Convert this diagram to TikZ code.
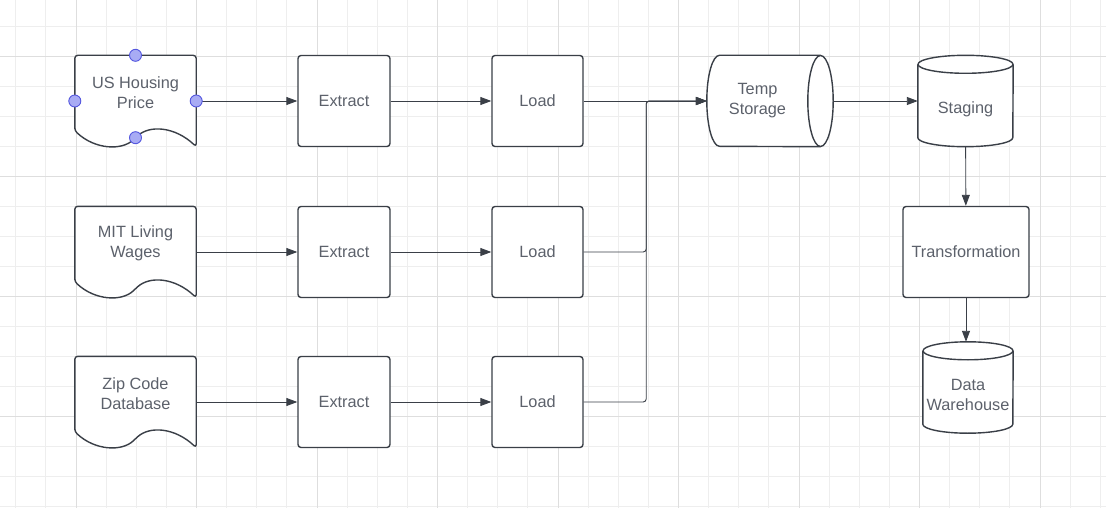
\documentclass[tikz,border=0pt]{standalone}
\usepackage{fontspec}
\setmainfont{Liberation Sans}
\usetikzlibrary{calc,arrows.meta}
\definecolor{ink}{HTML}{3A3F47}
\definecolor{txt}{HTML}{5C616B}
\definecolor{gmin}{HTML}{EEEEEE}
\definecolor{gmaj}{HTML}{DEDEDE}
\definecolor{hfill}{HTML}{A8ABF4}
\definecolor{hline}{HTML}{5457DF}
\newcommand\labfont{\fontsize{16.3pt}{20pt}\selectfont}
\pgfdeclarelayer{grid}
\pgfdeclarelayer{shapes}
\pgfsetlayers{grid,shapes,main}
\tikzset{
  shp/.style={draw=ink, fill=white, line width=1.4pt, line join=round},
  lab/.style={text=txt, font=\labfont, align=center},
  box/.style={shp, lab, rounded corners=3pt, minimum width=#1, minimum height=91pt, inner sep=0pt},
  outline/.style={minimum width=#1, minimum height=91pt, inner sep=0pt},
  conn/.style={draw=ink, line width=0.9pt, -{Triangle[length=11pt,width=8pt]}},
  handle/.style={circle, fill=hfill, draw=hline, line width=0.9pt, minimum size=12pt, inner sep=0pt},
  gridmin/.style={draw=gmin, line width=0.9pt},
  gridmaj/.style={draw=gmaj, line width=0.9pt},
}
% document shape with wavy bottom
\newcommand\docshape[1]{%
  \path[shp, rounded corners=3pt] ($(#1.south west)+(0,-16)$) -- (#1.north west) -- (#1.north east) -- (#1.south east)
    .. controls ($(#1.south)+(39.5,-20)$) and ($(#1.south)+(14.5,-22)$) .. ($(#1.south)+(0,-9)$)
    .. controls ($(#1.south)+(-13.5,4)$) and ($(#1.south)+(-40.5,3)$) .. ($(#1.south west)+(0,-16)$) -- cycle;
}
% upright cylinder
\newcommand\cylv[2]{%
  \path[shp] ($(#1.north west)+(0,9)$) -- ($(#1.south west)+(0,-9)$)
    arc[start angle=180, end angle=360, x radius=#2pt, y radius=9pt]
    -- ($(#1.north east)+(0,9)$);
  \path[shp] ($(#1.north)+(0,9)$) ellipse[x radius=#2pt, y radius=9pt];
}
% lying cylinder
\newcommand\cylh[3]{%
  \path[shp] ($(#1.north east)+(-#2,0)$) -- ($(#1.north west)+(#2,0)$)
    arc[start angle=90, end angle=270, x radius=#2pt, y radius=#3pt]
    -- ($(#1.south east)+(-#2,0)$);
  \path[shp] ($(#1.east)+(-#2,0)$) ellipse[x radius=#2pt, y radius=#3pt];
}

\begin{document}
\begin{tikzpicture}[x=1pt, y=-1pt]
  \useasboundingbox (0,0) rectangle (1106,508);
  \begin{pgfonlayer}{grid}
    \fill[white] (0,0) rectangle (1106,508);
    \foreach \i in {-2,...,34} \draw[gridmin] ({76+30.125*\i},0) -- ++(0,508);
    \foreach \j in {-1,...,15} \draw[gridmin] (0,{56+30*\j}) -- ++(1106,0);
    \foreach \i in {0,...,8} \draw[gridmaj] ({76+120.5*\i},0) -- ++(0,508);
    \foreach \j in {0,...,3} \draw[gridmaj] (0,{56+120*\j}) -- ++(1106,0);
  \end{pgfonlayer}

  \node[outline=121pt, label={[lab,yshift=8.5pt]center:US Housing\\Price}] (doc1) at (135.5,101) {};
  \node[outline=121pt, label={[lab,yshift=8.5pt]center:MIT Living\\Wages}] (doc2) at (135.5,252) {};
  \node[outline=121pt, label={[lab,yshift=8.5pt]center:Zip Code\\Database}] (doc3) at (135.5,402) {};

  \node[box=92pt] (ext1) at (344,101) {Extract};
  \node[box=92pt] (ext2) at (344,252) {Extract};
  \node[box=92pt] (ext3) at (344,402) {Extract};

  \node[box=91pt] (ld1) at (537.5,101) {Load};
  \node[box=91pt] (ld2) at (537.5,252) {Load};
  \node[box=91pt] (ld3) at (537.5,402) {Load};

  \node[outline=126pt, label={[lab,xshift=-12.5pt,yshift=0.5pt]center:Temp\\Storage}] (tmp) at (770,101) {};
  \node[outline=95pt, label={[lab,yshift=-8.5pt]center:Staging}] (stg) at (965.5,101) {};
  \node[box=126pt] (trf) at (966,252) {Transformation};
  \node[outline=90pt, label={[lab,yshift=-7.5pt]center:Data\\Warehouse}] (dw) at (968,387.5) {};

  \begin{pgfonlayer}{shapes}
    \docshape{doc1}
    \docshape{doc2}
    \docshape{doc3}
    \cylh{tmp}{12.7}{45.5}
    \cylv{stg}{47.5}
    \cylv{dw}{45}
  \end{pgfonlayer}

  \draw[conn] (doc1) -- (ext1);
  \draw[conn] (doc2) -- (ext2);
  \draw[conn] (doc3) -- (ext3);
  \draw[conn] (ext1) -- (ld1);
  \draw[conn] (ext2) -- (ld2);
  \draw[conn] (ext3) -- (ld3);
  \draw[conn] (ld1) -- (tmp);
  \draw[conn, rounded corners=3pt] (ld2.east) -- ++(62.5,0) |- (tmp);
  \draw[conn, rounded corners=3pt] (ld3.east) -- ++(62.5,0) |- (tmp);
  \draw[conn] (tmp) -- (stg);
  \draw[conn] (stg) -- (trf);
  \draw[conn] (trf) -- (trf |- dw.north);

  \node[handle] (hn) at (doc1.north) {};
  \node[handle] (hw) at (doc1.west) {};
  \node[handle] (he) at (doc1.east) {};
  \node[handle] (hs) at ($(doc1.south)+(0,-9)$) {};
\end{tikzpicture}
\end{document}
